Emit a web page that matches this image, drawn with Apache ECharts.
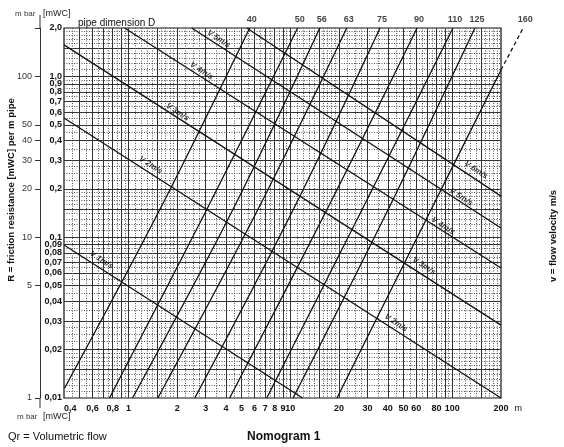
<!DOCTYPE html>
<html><head><meta charset="utf-8">
<script src="https://cdn.jsdelivr.net/npm/echarts@6/dist/echarts.min.js"></script>
<style>html,body{margin:0;padding:0;background:#fff}#c{width:564px;height:447px}</style>
</head><body><div id="c"></div>
<script>
// ---- tick labels ----
const xTickValues = [0.4,0.6,0.8,1,2,3,4,5,6,7,8,9,10,20,30,40,50,60,80,100,200];
const yTickValuesMWC = [2.0,1.0,0.9,0.8,0.7,0.6,0.5,0.4,0.3,0.2,0.1,0.09,0.08,0.07,0.06,0.05,0.04,0.03,0.02,0.01];
const yTickValuesMbar = [1,5,10,20,30,40,50,100];
const yTickMarksMbar = [1,5,10,20,30,40,50,100,200];

// ---- grid line multipliers per decade ----
const gridSolidMults = [1,1.5,2,3,4,5,6,7,8,9];
const gridDottedMults = [1.1,1.2,1.3,1.4,1.6,1.7,1.8,1.9,2.25,2.5,2.75,3.5,4.5,5.5,6.5,7.5,8.5,9.5];
const xDecades = [0.1,1,10,100];
const yDecades = [0.01,0.1,1];

// ---- pipe dimension lines D (flow Q, friction R in mWC) ----
const pipeNames = ['40','50','56','63','75','90','110','125','160'];
const pipe40  = [[0.403,0.0115],[1.56,0.148],[5.61,2.0]];
const pipe50  = [[0.764,0.01],[3.04,0.148],[11.1,2.0]];
const pipe56  = [[1.06,0.01],[4.41,0.148],[15.2,2.0]];
const pipe63  = [[1.52,0.01],[6.29,0.148],[22.3,2.0]];
const pipe75  = [[2.57,0.01],[10.4,0.148],[35.8,2.0]];
const pipe90  = [[4.22,0.01],[16.8,0.148],[60.6,2.0]];
const pipe110 = [[7.15,0.01],[27.7,0.148],[101,2.0]];
const pipe125 = [[10.4,0.01],[40.1,0.148],[138,2.0]];
const pipe160 = [[19.4,0.01],[73.9,0.148],[200,1.096]];
const pipe160Ext = [[200,1.096],[274,2.0]];

// ---- velocity lines v (m/s) ----
const vel1 = [[0.4,0.0894],[11.9,0.01]];
const vel2 = [[0.4,0.551],[200,0.01]];
const vel3 = [[0.4,1.57],[200,0.0284]];
const vel4 = [[0.946,2.0],[200,0.0644]];
const vel5 = [[2.46,2.0],[200,0.114]];
const vel6 = [[5.38,2.0],[200,0.180]];
const velLabelsLeft  = [[3.61,1.709,'V 5m/s'],[2.83,1.081,'V 4m/s'],[2.01,0.600,'V 3m/s'],[1.371,0.281,'V 2m/s'],[0.682,0.0721,'V 1m/s']];
const velLabelsRight = [[140.2,0.262,'V 6m/s'],[113.3,0.178,'V 5m/s'],[87.7,0.1174,'V 4m/s'],[66.9,0.0662,'V 3m/s'],[44.9,0.0293,'V 2m/s']];

const FONT = '"Liberation Sans", Arial, Helvetica, sans-serif';
const INK = '#111';

function gridVals(mults, decades, lo, hi) {
  const out = [];
  decades.forEach(d => mults.forEach(m => {
    const v = +(m * d).toPrecision(6);
    if (v > lo * 1.0001 && v < hi * 0.9999) out.push(v);
  }));
  return out;
}
const xGridSolid = gridVals(gridSolidMults, xDecades, 0.4, 200);
const xGridDotted = gridVals(gridDottedMults, xDecades, 0.4, 200);
const yGridSolid = gridVals(gridSolidMults, yDecades, 0.01, 2);
const yGridDotted = gridVals(gridDottedMults, yDecades, 0.01, 2);

const comma = v => String(+(+v).toPrecision(6)).replace('.', ',');

const X = {min:0.4, max:200};
const Y = {min:0.01, max:2.0};

function gridAxis(base, values, style) {
  return Object.assign({type:'log', logBase:10, gridIndex:0,
    axisLine:{show:false}, axisLabel:{show:false},
    axisTick:{show:false, customValues:values},
    splitLine:{show:true, lineStyle:style}, minorTick:{show:false}, minorSplitLine:{show:false}}, base);
}

const lineStyleMain = {color:INK, width:1.3};
const pipeArrays = [pipe40,pipe50,pipe56,pipe63,pipe75,pipe90,pipe110,pipe125,pipe160];
const velArrays = [vel1,vel2,vel3,vel4,vel5,vel6];

const series = [];
pipeArrays.forEach((arr, i) => series.push({
  name:'D' + pipeNames[i], type:'line', data:arr, smooth:0.35, symbol:'none',
  lineStyle:lineStyleMain, xAxisIndex:0, yAxisIndex:0, z:5, silent:true
}));
// dashed continuation of D160 beyond the chart frame
series.push({name:'D160ext', type:'custom', xAxisIndex:0, yAxisIndex:0, clip:false, z:5, silent:true,
  data:[pipe160Ext[0].concat(pipe160Ext[1])],
  encode:{x:[0,2], y:[1,3]},
  renderItem:(params, api) => {
    const p1 = api.coord([api.value(0), api.value(1)]);
    const p2 = api.coord([api.value(2), api.value(3)]);
    return {type:'line', shape:{x1:p1[0], y1:p1[1], x2:p2[0], y2:p2[1]},
      style:{stroke:INK, lineWidth:1.3, lineDash:[4,3], fill:null}};
  }
});
velArrays.forEach((arr, i) => series.push({
  name:'v' + (i+1), type:'line', data:arr, symbol:'none',
  lineStyle:lineStyleMain, xAxisIndex:0, yAxisIndex:0, z:5, silent:true
}));
// pipe dimension labels at the upper end of each D line
const pipeTops = pipeArrays.slice(0,8).map(a => a[a.length-1]).concat([pipe160Ext[1]]);
series.push({type:'scatter', xAxisIndex:0, yAxisIndex:0, clip:false, symbolSize:1, z:6, silent:true,
  itemStyle:{color:'rgba(0,0,0,0)'},
  data: pipeTops.map((p,i) => ({value:p, name:pipeNames[i]})),
  label:{show:true, position:'top', distance:3, offset:[2,0], formatter:'{b}',
    fontFamily:FONT, fontSize:9, fontWeight:'bold', color:INK}
});
// velocity labels
series.push({type:'scatter', xAxisIndex:0, yAxisIndex:0, clip:false, symbolSize:1, z:6, silent:true,
  itemStyle:{color:'rgba(0,0,0,0)'},
  data: velLabelsLeft.concat(velLabelsRight).map(p => ({value:[p[0],p[1]], name:p[2]})),
  label:{show:true, position:'inside', rotate:-33, formatter:'{b}',
    fontFamily:FONT, fontSize:8, fontWeight:'bold', fontStyle:'italic', color:'#000'}
});

const option = {
  animation:false,
  backgroundColor:'#fff',
  grid:{left:64, right:63, top:28, bottom:49, show:true, borderColor:INK, borderWidth:1.2, backgroundColor:'transparent'},
  xAxis:[
    {type:'log', logBase:10, min:X.min, max:X.max, gridIndex:0, position:'bottom',
      axisLine:{show:false}, axisTick:{show:false}, splitLine:{show:false}, minorTick:{show:false},
      axisLabel:{customValues:xTickValues, formatter:comma, margin:6, fontFamily:FONT, fontSize:9,
        fontWeight:'bold', color:INK, alignMinLabel:'left'},
      name:'m', nameLocation:'end', nameGap:12,
      nameTextStyle:{fontFamily:FONT, fontSize:9, color:INK, verticalAlign:'top', padding:[6,0,0,0]}},
    gridAxis({min:X.min, max:X.max}, xGridSolid, {color:'#333', width:1}),
    gridAxis({min:X.min, max:X.max}, xGridDotted, {color:'#555', width:1, type:[1,1.5]})
  ],
  yAxis:[
    {type:'log', logBase:10, min:Y.min, max:Y.max, gridIndex:0, position:'left',
      axisLine:{show:false}, axisTick:{show:false}, splitLine:{show:false}, minorTick:{show:false},
      axisLabel:{customValues:yTickValuesMWC, margin:2, fontFamily:FONT, fontSize:9, fontWeight:'bold', color:INK,
        formatter: v => (v >= 1 ? (+v).toFixed(1).replace('.', ',') : comma(v))}},
    {type:'log', logBase:10, min:1, max:200, gridIndex:0, position:'left', offset:24,
      axisLine:{show:true, lineStyle:{color:'#333', width:1}},
      axisTick:{show:true, customValues:yTickMarksMbar, length:5, lineStyle:{color:'#333', width:1}},
      splitLine:{show:false}, minorTick:{show:false},
      axisLabel:{customValues:yTickValuesMbar, margin:8, fontFamily:FONT, fontSize:9, color:'#333'}},
    gridAxis({min:Y.min, max:Y.max}, yGridSolid, {color:'#333', width:1}),
    gridAxis({min:Y.min, max:Y.max}, yGridDotted, {color:'#555', width:1, type:[1,1.5]})
  ],
  graphic:[
    {type:'line', shape:{x1:40, y1:15, x2:40, y2:28}, style:{stroke:'#333', lineWidth:1}},
    {type:'line', shape:{x1:40, y1:398, x2:40, y2:408}, style:{stroke:'#333', lineWidth:1}},
    {type:'text', x:15, y:14, style:{text:'m bar', fontFamily:FONT, fontSize:8, fill:'#333', verticalAlign:'middle'}},
    {type:'text', x:43, y:14, style:{text:'[mWC]', fontFamily:FONT, fontSize:9, fill:'#222', verticalAlign:'middle'}},
    {type:'text', x:78, y:23, style:{text:'pipe dimension D', fontFamily:FONT, fontSize:10, fill:INK, verticalAlign:'middle'}},
    {type:'text', x:17, y:417, style:{text:'m bar', fontFamily:FONT, fontSize:8, fill:'#333', verticalAlign:'middle'}},
    {type:'text', x:43, y:417, style:{text:'[mWC]', fontFamily:FONT, fontSize:9, fill:'#222', verticalAlign:'middle'}},
    {type:'text', x:8, y:437, style:{text:'Qr = Volumetric flow', fontFamily:FONT, fontSize:11, fill:INK, verticalAlign:'middle'}},
    {type:'text', x:247, y:437, style:{text:'Nomogram 1', fontFamily:FONT, fontSize:12, fontWeight:'bold', fill:INK, verticalAlign:'middle'}},
    {type:'text', x:11, y:190, rotation:Math.PI/2, style:{text:'R = friction resistance [mWC] per m pipe', fontFamily:FONT, fontSize:9.5, fontWeight:'bold', fill:INK, align:'center', verticalAlign:'middle'}},
    {type:'text', x:553, y:236, rotation:Math.PI/2, style:{text:'v = flow velocity m/s', fontFamily:FONT, fontSize:9.5, fontWeight:'bold', fill:INK, align:'center', verticalAlign:'middle'}}
  ],
  series: series
};
const chart = echarts.init(document.getElementById('c'));
chart.setOption(option);
</script></body></html>
